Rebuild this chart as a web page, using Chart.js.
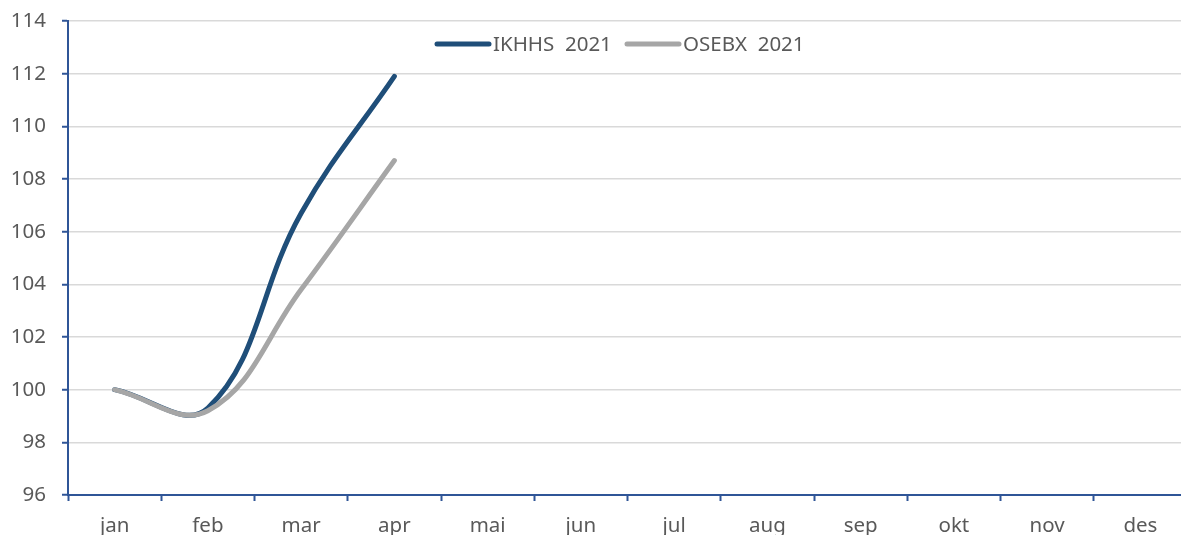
<!DOCTYPE html>
<html>
<head>
<meta charset="utf-8">
<script src="https://cdn.jsdelivr.net/npm/chart.js@4/dist/chart.umd.min.js"></script>
<style>
  html, body { margin: 0; padding: 0; background: #fff; overflow: hidden; }
  #wrap { position: relative; width: 1187px; height: 548px; }
</style>
</head>
<body>
<div id="wrap"><canvas id="graf"></canvas></div>
<script>
// Data
const maaneder = ['jan', 'feb', 'mar', 'apr', 'mai', 'jun', 'jul', 'aug', 'sep', 'okt', 'nov', 'des'];
const ikhhs2021 = [100, 99.3, 106.7, 111.9, null, null, null, null, null, null, null, null];
const osebx2021 = [100, 99.2, 103.8, 108.7, null, null, null, null, null, null, null, null];
const yTicks = [96, 98, 100, 102, 104, 106, 108, 110, 112, 114];

const blaa = '#1f4e79';
const graa = '#a6a6a6';
const tekst = '#595959';
const fontNavn = '"Noto Sans", "Open Sans", sans-serif';

// legend drawn inside the plot area
const legendeInni = {
    id: 'legendeInni',
    afterDraw(chart) {
        const ctx = chart.ctx;
        const y = 44;
        const items = [
            { x: 437, farge: blaa, navn: 'IKHHS  2021' },
            { x: 627, farge: graa, navn: 'OSEBX  2021' }
        ];
        ctx.save();
        ctx.lineCap = 'round';
        ctx.lineWidth = 5;
        ctx.font = '20.5px ' + fontNavn;
        ctx.textBaseline = 'middle';
        ctx.fillStyle = tekst;
        items.forEach(it => {
            ctx.strokeStyle = it.farge;
            ctx.beginPath();
            ctx.moveTo(it.x, y);
            ctx.lineTo(it.x + 52, y);
            ctx.stroke();
            ctx.fillText(it.navn, it.x + 56, y + 1);
        });
        ctx.restore();
    }
};

new Chart(document.getElementById('graf'), {
    type: 'line',
    data: {
        labels: maaneder,
        datasets: [
            { label: 'IKHHS  2021', data: ikhhs2021, borderColor: blaa, borderWidth: 5, order: 1 },
            { label: 'OSEBX  2021', data: osebx2021, borderColor: graa, borderWidth: 5, order: 0 }
        ]
    },
    options: {
        responsive: true,
        maintainAspectRatio: false,
        animation: false,
        layout: { padding: { top: 21, left: 0, right: 0, bottom: 0 } },
        elements: {
            point: { radius: 0 },
            line: { tension: 0.4, borderCapStyle: 'round', fill: false }
        },
        plugins: { legend: { display: false }, tooltip: { enabled: false } },
        scales: {
            x: {
                offset: true,
                grid: { offset: true, drawOnChartArea: false, tickLength: 6, tickColor: '#2f5597', tickWidth: 2 },
                border: { color: '#2f5597', width: 2 },
                ticks: { color: tekst, font: { family: fontNavn, size: 20.5 }, padding: 13, maxRotation: 0, autoSkip: false },
                afterFit: s => { s.height = 53; }
            },
            y: {
                min: 96,
                max: 114,
                afterBuildTicks: s => { s.ticks = yTicks.map(v => ({ value: v })); },
                grid: { color: '#d9d9d9', lineWidth: 1.5, tickLength: 6, tickColor: '#2f5597', tickWidth: 2 },
                border: { color: '#2f5597', width: 2 },
                ticks: { color: tekst, font: { family: fontNavn, size: 20.5 }, padding: 16 },
                afterFit: s => { s.width = 68; s.paddingTop = 0; s.paddingBottom = 0; }
            }
        }
    },
    plugins: [legendeInni]
});
</script>
</body>
</html>
